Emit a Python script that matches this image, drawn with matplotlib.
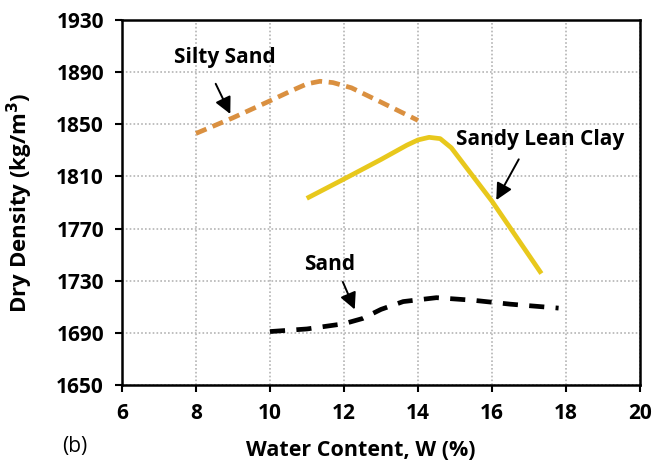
import numpy as np
import matplotlib
matplotlib.use("Agg")
import matplotlib.pyplot as plt

# -------------------------------
# DATA
# -------------------------------
silty_w = [8.0, 9.0, 10.0, 10.6, 11.0, 11.35, 11.7, 12.2, 13.0, 14.0]
silty_d = [1843, 1855, 1868, 1876, 1881, 1883, 1882, 1878, 1867, 1853]

clay_w = [11.05, 12.0, 13.0, 13.7, 14.0, 14.3, 14.6, 14.9, 16.0, 17.3]
clay_d = [1794, 1808, 1823, 1834, 1838, 1840, 1839, 1832, 1791, 1737]

sand_w = [10.0, 11.0, 12.0, 12.5, 13.0, 13.6, 14.5, 15.5, 16.5, 17.8]
sand_d = [1691, 1693, 1697, 1701, 1708, 1714, 1717, 1715, 1712, 1709]

x_ticks = [6, 8, 10, 12, 14, 16, 18, 20]
y_ticks = [1650, 1690, 1730, 1770, 1810, 1850, 1890, 1930]

plt.rcParams['font.family'] = ['Open Sans', 'DejaVu Sans']

fig = plt.figure(figsize=(6.58, 4.72), dpi=100)
ax = fig.add_axes([0.1854, 0.1843, 0.7872, 0.7733])

ax.plot(silty_w, silty_d, color="#DA9040", lw=3.4, ls=(0, (2.4, 1.4)))
ax.plot(clay_w, clay_d, color="#E8C81C", lw=3.4)
ax.plot(sand_w, sand_d, color="black", lw=3.4, ls=(0, (3.2, 2.4)))

ax.set_xlim(6, 20)
ax.set_ylim(1650, 1930)
ax.set_xticks(x_ticks)
ax.set_yticks(y_ticks)
ax.grid(True, color="#B4B4B4", ls=(0, (1, 1.3)), lw=1.2)
ax.set_axisbelow(True)

for s in ax.spines.values():
    s.set_linewidth(1.8)
    s.set_color("black")

ax.tick_params(axis="both", direction="out", length=5, width=1.5, labelsize=15, pad=8)
for lab in ax.get_xticklabels() + ax.get_yticklabels():
    lab.set_fontweight("bold")

ax.set_xlabel("Water Content, W (%)", fontsize=15.5, fontweight="bold")
ax.set_ylabel("Dry Density (kg/m$^\\mathbf{3}$)", fontsize=16, fontweight="bold")
ax.xaxis.set_label_coords(0.46, -0.15)
ax.yaxis.set_label_coords(-0.168, 0.5)

fig.text(0.114, 0.053, "(b)", fontsize=15, ha="center", va="center")

arrow = dict(arrowstyle="-|>,head_length=0.5,head_width=0.25", color="black", lw=1.4, mutation_scale=20)
ax.annotate("", xy=(8.96, 1856), xytext=(8.5, 1883), arrowprops=arrow)
ax.text(8.78, 1897, "Silty Sand", fontsize=15, fontweight="bold", ha="center", va="baseline")

ax.annotate("", xy=(16.08, 1790), xytext=(16.76, 1825), arrowprops=arrow)
ax.text(17.3, 1834, "Sandy Lean Clay", fontsize=15, fontweight="bold", ha="center", va="baseline")

ax.annotate("", xy=(12.32, 1706), xytext=(11.94, 1731), arrowprops=arrow)
ax.text(11.62, 1738, "Sand", fontsize=15, fontweight="bold", ha="center", va="baseline")

fig.savefig("out.png", dpi=100)
